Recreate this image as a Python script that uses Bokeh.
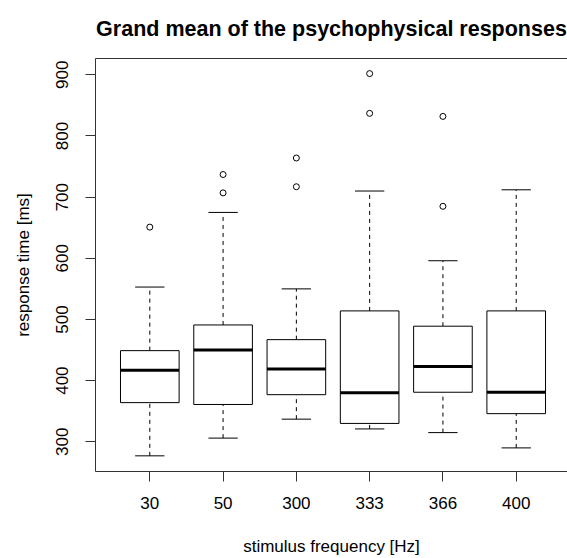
from bokeh.plotting import figure
from bokeh.models import Range1d, FixedTicker, LinearAxis, ColumnDataSource
from bokeh.embed import file_html
from bokeh.resources import INLINE

# ---- data ----
categories = ["30", "50", "300", "333", "366", "400"]
lower_whisker = [277, 306, 337, 321, 315, 290]
q1 = [364, 361, 377, 330, 381, 346]
median = [417, 450, 419, 380, 423, 381]
q3 = [449, 491, 467, 514, 489, 514]
upper_whisker = [553, 675, 550, 710, 596, 712]
outlier_cat = ["30", "50", "50", "300", "300", "333", "333", "366", "366"]
outlier_val = [651, 737, 707, 764, 717, 902, 837, 832, 685]
y_ticks = [300, 400, 500, 600, 700, 800, 900]

title_text = "Grand mean of the psychophysical responses"
x_label = "stimulus frequency [Hz]"
y_label = "response time [ms]"

# ---- derived ----
pos = [i + 1 for i in range(len(categories))]
cat_pos = {c: i + 1 for i, c in enumerate(categories)}
BOXW = 0.4
STAPLE = 0.2

src = ColumnDataSource(dict(
    x=pos,
    left=[x - BOXW for x in pos],
    right=[x + BOXW for x in pos],
    sl=[x - STAPLE for x in pos],
    sr=[x + STAPLE for x in pos],
    lw=lower_whisker, q1=q1, med=median, q3=q3, uw=upper_whisker,
))
out_src = ColumnDataSource(dict(x=[cat_pos[c] for c in outlier_cat], y=outlier_val))

FONT = "Liberation Sans"

p = figure(width=567, height=558, output_backend="svg", toolbar_location=None,
           x_range=Range1d(0.259, 6.70), y_range=Range1d(251.4, 926.7),
           min_border_left=95, min_border_right=0, min_border_top=58,
           min_border_bottom=87, title=title_text)
p.grid.visible = False
p.outline_line_color = None

# title
p.title.text_font = FONT
p.title.text_font_style = "bold"
p.title.text_font_size = "21.5px"
p.title.align = "center"
p.title.vertical_align = "top"
p.title.standoff = 32
p.title.text_color = "black"

LINE = "#333333"
for ax in (p.xaxis[0], p.yaxis[0]):
    ax.axis_line_color = LINE
    ax.major_tick_line_color = LINE
    ax.minor_tick_line_color = None
    ax.major_tick_out = 10
    ax.major_tick_in = 0
    ax.major_label_text_font = FONT
    ax.major_label_text_font_size = "17px"
    ax.major_label_text_color = "black"
    ax.axis_label_text_font = FONT
    ax.axis_label_text_font_size = "17px"
    ax.axis_label_text_font_style = "normal"
    ax.axis_label_text_color = "black"

p.xaxis.ticker = FixedTicker(ticks=pos)
p.xaxis.major_label_overrides = {x: c for x, c in zip(pos, categories)}
p.xaxis.axis_label = x_label
p.xaxis.major_label_standoff = 15
p.xaxis.axis_label_standoff = 25

p.yaxis.ticker = FixedTicker(ticks=y_ticks)
p.yaxis.major_label_orientation = "vertical"
p.yaxis.axis_label = y_label
p.yaxis.major_label_standoff = 17
p.yaxis.axis_label_standoff = 21

top = LinearAxis(ticker=FixedTicker(ticks=[]), axis_line_color=LINE,
                 major_tick_line_color=None, minor_tick_line_color=None,
                 major_label_text_font_size="0px")
p.add_layout(top, "above")

# whiskers (dashed)
p.segment(x0="x", x1="x", y0="q3", y1="uw", source=src, line_color="black",
          line_width=1, line_dash="4 4")
p.segment(x0="x", x1="x", y0="lw", y1="q1", source=src, line_color="black",
          line_width=1, line_dash="4 4")
# staples
p.segment(x0="sl", x1="sr", y0="uw", y1="uw", source=src, line_color="black", line_width=1)
p.segment(x0="sl", x1="sr", y0="lw", y1="lw", source=src, line_color="black", line_width=1)
# boxes
p.quad(left="left", right="right", bottom="q1", top="q3", source=src,
       fill_color="white", line_color="black", line_width=1)
# medians
p.segment(x0="left", x1="right", y0="med", y1="med", source=src,
          line_color="black", line_width=3)
# outliers
p.scatter(x="x", y="y", source=out_src, marker="circle", size=6,
          fill_color=None, line_color="black", line_width=1)

open("out.html", "w").write(file_html(p, INLINE))
